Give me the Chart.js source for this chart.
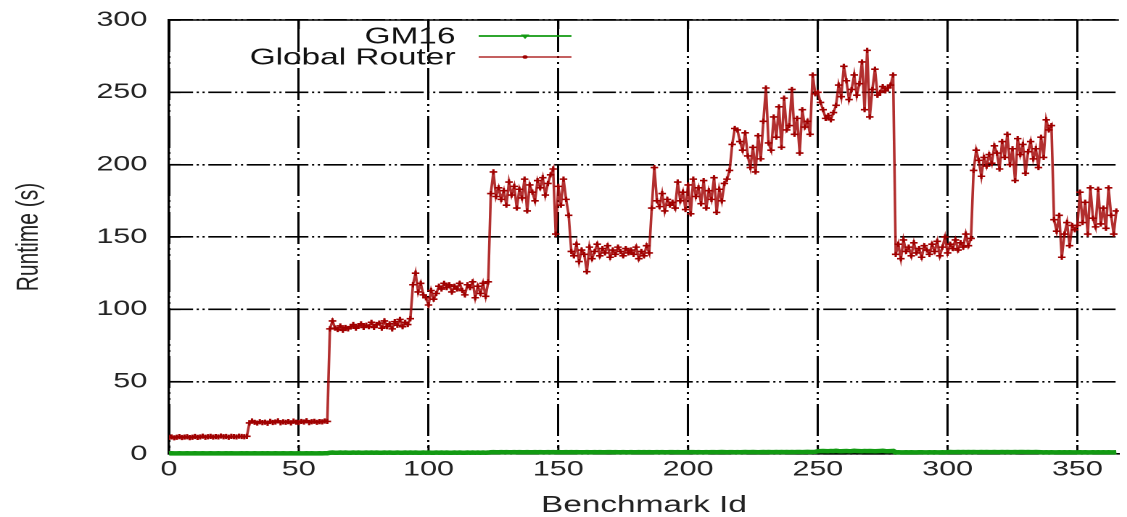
<!DOCTYPE html>
<html>
<head>
<meta charset="utf-8">
<script src="https://cdn.jsdelivr.net/npm/chart.js@4.4.1/dist/chart.umd.min.js"></script>
<style>
html,body{margin:0;padding:0;background:#fff;overflow:hidden;width:1127px;height:517px;}
#wrap{position:absolute;left:0;top:0;width:777px;height:517px;transform:scaleX(1.4505);transform-origin:0 0;}
</style>
</head>
<body>
<div id="wrap"><canvas id="c"></canvas></div>
<script>
// ---- data (benchmark id = array index) ----
const seriesNames = ["GM16", "Global Router"];

const gm16 = [
0.4,0.5,0.4,0.4,0.5,0.4,0.4,0.5,0.4,0.4,
0.5,0.4,0.4,0.5,0.4,0.4,0.5,0.4,0.4,0.5,
0.4,0.4,0.5,0.4,0.5,0.4,0.4,0.4,0.5,0.4,
0.5,0.4,0.4,0.5,0.4,0.4,0.5,0.4,0.5,0.4,
0.4,0.5,0.4,0.4,0.5,0.4,0.4,0.5,0.4,0.4,
0.5,0.4,0.4,0.5,0.4,0.5,0.4,0.4,0.5,0.4,
0.5,0.5,0.9,1.0,0.9,0.9,1.0,0.9,1.0,0.9,
0.9,1.0,0.9,1.0,0.9,0.9,1.0,0.9,1.0,0.9,
1.0,0.9,0.9,1.0,0.9,1.0,0.9,0.9,1.0,0.9,
0.9,1.0,0.9,1.0,0.9,1.0,0.9,0.9,1.0,0.9,
1.0,0.9,0.9,1.0,0.9,1.0,0.9,1.0,0.9,0.9,
1.0,0.9,1.0,0.9,0.9,1.0,0.9,1.0,0.9,1.0,
0.9,1.0,0.9,1.0,1.2,1.3,1.2,1.2,1.3,1.2,
1.3,1.2,1.2,1.3,1.2,1.3,1.2,1.2,1.3,1.2,
1.2,1.3,1.2,1.3,1.2,1.2,1.3,1.2,1.3,1.2,
1.3,1.2,1.2,1.3,1.2,1.3,1.2,1.3,1.2,1.2,
1.2,1.3,1.2,1.2,1.3,1.2,1.3,1.2,1.2,1.3,
1.3,1.2,1.3,1.2,1.2,1.3,1.2,1.2,1.3,1.2,
1.2,1.3,1.2,1.3,1.2,1.3,1.2,1.2,1.3,1.2,
1.3,1.2,1.2,1.3,1.3,1.2,1.3,1.2,1.2,1.3,
1.2,1.3,1.3,1.2,1.3,1.2,1.2,1.3,1.2,1.3,
1.3,1.2,1.3,1.4,1.3,1.2,1.3,1.3,1.2,1.3,
1.2,1.3,1.4,1.3,1.3,1.4,1.3,1.2,1.3,1.4,
1.3,1.4,1.3,1.3,1.4,1.3,1.4,1.3,1.4,1.3,
1.4,1.3,1.4,1.4,1.3,1.4,1.5,1.4,1.4,1.5,
1.9,2.0,2.1,2.0,1.9,2.1,2.0,2.2,2.0,1.9,
2.0,2.1,1.9,2.0,2.2,2.1,2.0,1.9,2.1,2.0,
2.1,2.0,1.9,2.0,2.1,2.2,2.0,1.9,2.0,2.1,
1.1,1.2,1.1,1.1,1.2,1.1,1.2,1.1,1.1,1.2,
1.2,1.1,1.1,1.2,1.1,1.2,1.1,1.1,1.2,1.1,
1.3,1.4,1.3,1.3,1.4,1.3,1.4,1.3,1.4,1.3,
1.4,1.3,1.3,1.4,1.3,1.4,1.3,1.3,1.4,1.3,
1.3,1.4,1.3,1.4,1.3,1.3,1.4,1.3,1.4,1.4,
1.3,1.4,1.3,1.3,1.4,1.3,1.2,1.1,1.2,1.1,
1.2,1.1,1.1,1.2,1.1,1.2,1.1,1.2,1.1,1.1,
1.1,1.2,1.1,1.2,1.1,1.1,1.2,1.1,1.2,1.1,
1.2,1.1,1.2,1.1,1.1,1.2
];

const globalRouter = [
11.5,11.8,11.2,11.6,12.0,11.4,11.7,11.9,11.3,11.6,
12.1,11.5,11.8,12.3,11.6,11.9,12.2,11.7,12.0,11.8,
12.4,11.9,12.1,11.6,12.2,12.0,11.8,12.3,12.1,11.9,
12.2,21.5,22.8,21.9,21.4,22.3,21.7,22.0,21.2,22.6,
21.8,22.1,22.9,21.6,22.2,21.9,22.4,21.5,22.7,22.0,
21.8,22.5,22.1,23.0,21.7,22.3,22.6,21.9,22.4,22.2,
22.8,22.5,86.5,92.0,87.0,86.0,88.5,85.5,87.5,86.5,
88.0,89.5,87.0,88.5,90.0,87.5,89.0,88.0,91.0,87.5,
89.5,90.5,87.0,92.0,88.0,90.0,86.5,91.5,89.0,93.0,
88.0,91.0,89.5,93.5,117.0,125.0,112.0,118.0,110.0,108.0,
103.0,113.0,107.0,111.0,116.0,114.0,118.0,115.0,117.0,112.0,
116.0,114.0,118.0,113.0,110.0,117.0,115.0,119.0,108.0,116.0,
111.0,118.0,109.0,119.0,180.0,195.0,178.0,184.0,176.0,182.0,
172.0,188.0,179.0,185.0,170.0,183.0,177.0,190.0,168.0,186.0,
181.0,175.0,189.0,184.0,191.0,179.0,187.0,193.0,197.0,152.0,
185.0,172.0,190.0,176.0,165.0,140.0,137.0,145.0,133.0,141.0,
138.0,126.0,143.0,135.0,140.0,145.0,137.0,142.0,139.0,144.0,
136.0,141.0,138.0,143.0,140.0,137.0,142.0,139.0,141.0,138.0,
143.0,135.0,140.0,137.0,144.0,139.0,170.0,198.0,175.0,171.0,
180.0,168.0,176.0,172.0,174.0,170.0,188.0,175.0,181.0,169.0,
186.0,166.0,190.0,178.0,184.0,173.0,189.0,170.0,182.0,176.0,
191.0,167.0,183.0,175.0,187.0,190.0,196.0,214.0,225.0,224.0,
216.0,210.0,222.0,206.0,198.0,212.0,195.0,220.0,204.0,230.0,
253.0,215.0,210.0,233.0,219.0,240.0,212.0,246.0,224.0,227.0,
252.0,221.0,232.0,208.0,238.0,226.0,230.0,221.0,262.0,249.0,
250.0,243.0,238.0,232.0,234.0,231.0,236.0,241.0,255.0,247.0,
268.0,258.0,245.0,252.0,262.0,248.0,256.0,271.0,238.0,279.0,
233.0,252.0,266.0,248.0,250.0,254.0,251.0,253.0,255.0,262.0,
138.0,145.0,135.0,148.0,140.0,143.0,137.0,146.0,139.0,142.0,
136.0,144.0,141.0,138.0,145.0,140.0,147.0,137.0,143.0,150.0,
139.0,145.0,142.0,148.0,141.0,146.0,143.0,152.0,144.0,149.0,
196.0,210.0,203.0,192.0,205.0,199.0,207.0,201.0,213.0,208.0,
197.0,216.0,205.0,221.0,200.0,211.0,189.0,218.0,207.0,214.0,
194.0,209.0,216.0,204.0,211.0,198.0,219.0,205.0,231.0,224.0,
227.0,162.0,154.0,165.0,136.0,152.0,160.0,144.0,158.0,155.0,
158.0,181.0,160.0,174.0,152.0,184.0,163.0,157.0,183.0,159.0,
170.0,156.0,184.0,165.0,152.0,168.0
];

const xTicksMin = 0, xTicksMax = 366, xStep = 50;
const yTicksMin = 0, yTicksMax = 300, yStep = 50;
const xTitle = "Benchmark Id";
const yTitle = "Runtime (s)";

// ---- styling ----
const FONT = '"Liberation Sans", Arial, Helvetica, sans-serif';
const GREEN = '#129a12';
const RED = '#a00000';

const toPoints = arr => arr.map((v, i) => ({x: i, y: v}));

const framePlugin = {
  id: 'frameTicks',
  beforeDatasetsDraw(chart) {
    const {ctx, chartArea: a, scales} = chart;
    ctx.save();
    ctx.strokeStyle = '#000';
    ctx.setLineDash([]);
    ctx.lineWidth = 1.6;
    ctx.beginPath();
    ctx.moveTo(a.left, a.top);
    ctx.lineTo(a.right, a.top);
    ctx.stroke();
    ctx.lineWidth = 1.5;
    scales.x.ticks.forEach(t => {
      const px = scales.x.getPixelForValue(t.value);
      ctx.beginPath();
      ctx.moveTo(px, a.bottom); ctx.lineTo(px, a.bottom - 9);
      ctx.moveTo(px, a.top); ctx.lineTo(px, a.top + 9);
      ctx.stroke();
    });
    scales.y.ticks.forEach(t => {
      const py = scales.y.getPixelForValue(t.value);
      ctx.beginPath();
      ctx.moveTo(a.left, py); ctx.lineTo(a.left + 8, py);
      ctx.stroke();
    });
    ctx.restore();
  }
};

const legendPlugin = {
  id: 'insideLegend',
  afterDraw(chart) {
    const ctx = chart.ctx;
    const textRight = 314, lineL = 330, lineR = 394, rowY = [36, 57];
    ctx.save();
    ctx.font = '23px ' + FONT;
    ctx.textAlign = 'right';
    ctx.textBaseline = 'middle';
    chart.data.datasets.forEach((ds, i) => {
      const y = rowY[i];
      ctx.fillStyle = '#111';
      ctx.fillText(ds.label, textRight, y + 1);
      ctx.strokeStyle = ds.pointBackgroundColor;
      ctx.lineWidth = i === 0 ? 1.8 : 1.3;
      ctx.beginPath();
      ctx.moveTo(lineL, y); ctx.lineTo(lineR, y);
      ctx.stroke();
      const cx = (lineL + lineR) / 2;
      ctx.fillStyle = ds.pointBackgroundColor;
      ctx.beginPath();
      if (i === 0) {
        ctx.moveTo(cx - 3, y - 1.5); ctx.lineTo(cx + 3, y - 1.5); ctx.lineTo(cx, y + 3);
        ctx.closePath();
      } else {
        ctx.arc(cx, y, 1.8, 0, Math.PI * 2);
      }
      ctx.fill();
    });
    ctx.restore();
  }
};

new Chart(document.getElementById('c'), {
  type: 'line',
  data: {
    datasets: [
      {
        label: seriesNames[0],
        data: toPoints(gm16),
        borderColor: GREEN,
        backgroundColor: GREEN,
        pointBackgroundColor: GREEN,
        borderWidth: 4.5,
        pointRadius: 0,
        tension: 0,
        clip: false
      },
      {
        label: seriesNames[1],
        data: toPoints(globalRouter),
        borderColor: 'rgba(165,10,10,0.85)',
        backgroundColor: RED,
        pointBackgroundColor: RED,
        pointBorderColor: RED,
        borderWidth: 1.8,
        pointRadius: 2.6,
        pointBorderWidth: 1.6,
        pointStyle: 'cross',
        tension: 0
      }
    ]
  },
  options: {
    responsive: true,
    maintainAspectRatio: false,
    animation: false,
    devicePixelRatio: 2,
    layout: {padding: {top: 20, right: 0, bottom: 0, left: 0}},
    plugins: {legend: {display: false}, tooltip: {enabled: false}},
    scales: {
      x: {
        type: 'linear',
        min: xTicksMin,
        max: xTicksMax,
        ticks: {
          stepSize: xStep,
          includeBounds: false,
          autoSkip: false,
          maxRotation: 0,
          padding: 3,
          color: '#222',
          font: {family: FONT, size: 21}
        },
        grid: {color: '#000', lineWidth: 1.5, drawTicks: false},
        border: {display: true, color: '#000', width: 1.6, dash: [32, 4, 2, 4, 2, 4]},
        title: {
          display: true, text: xTitle, color: '#222',
          font: {family: FONT, size: 23, lineHeight: 1},
          padding: {top: 0, bottom: 0}
        },
        afterFit(s) { s.height = 63; s.paddingLeft = 0; s.paddingRight = 0; }
      },
      y: {
        min: yTicksMin,
        max: yTicksMax,
        ticks: {
          stepSize: yStep,
          padding: 15,
          color: '#222',
          font: {family: FONT, size: 21}
        },
        grid: {color: '#000', lineWidth: 1.6, drawTicks: false},
        border: {display: true, color: '#000', width: 1.6, dash: [16, 2.5, 1.5, 2.5, 1.5, 2.5]},
        title: {
          display: true, text: yTitle, color: '#222',
          font: {family: FONT, size: 21, lineHeight: 1},
          padding: {top: 9.5, bottom: 0}
        },
        afterFit(s) { s.width = 116.5; s.paddingTop = 0; s.paddingBottom = 0; }
      }
    }
  },
  plugins: [framePlugin, legendPlugin]
});
</script>
</body>
</html>
